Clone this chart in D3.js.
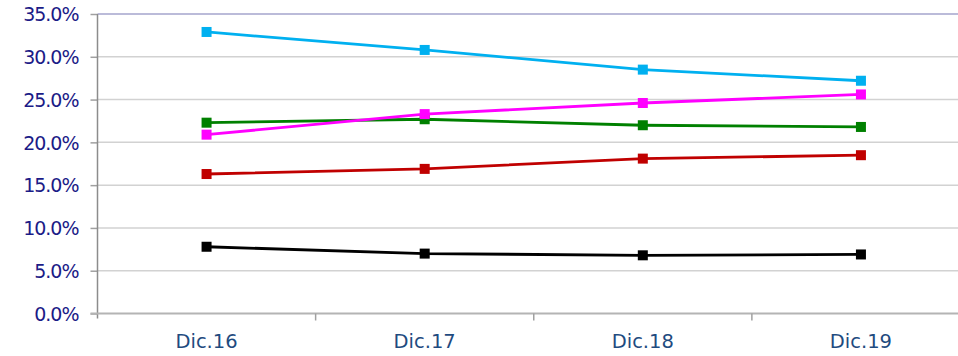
<!DOCTYPE html>
<html>
<head>
<meta charset="utf-8">
<script src="https://cdn.jsdelivr.net/npm/d3@7"></script>
<style>
  body { margin: 0; background: #fff; }
  .ylab { font-family: "DejaVu Sans", Verdana, sans-serif; font-size: 19px; letter-spacing: -1px; fill: #1b1b87; }
  .xlab { font-family: "DejaVu Sans", Verdana, sans-serif; font-size: 19.5px; fill: #1f4b7f; }
</style>
</head>
<body>
<div id="chart"></div>
<script>
// Data
// ==============================================================================
var categories = ["Dic.16", "Dic.17", "Dic.18", "Dic.19"];
var yTicks = [0, 5, 10, 15, 20, 25, 30, 35];

var cyanSeries    = [32.9, 30.8, 28.5, 27.2];
var magentaSeries = [20.9, 23.3, 24.6, 25.6];
var greenSeries   = [22.3, 22.7, 22.0, 21.8];
var redSeries     = [16.3, 16.9, 18.1, 18.5];
var blackSeries   = [7.8, 7.0, 6.8, 6.9];

var seriesList = [
  { values: blackSeries, color: "#000000" },
  { values: redSeries, color: "#c00000" },
  { values: greenSeries, color: "#008000" },
  { values: magentaSeries, color: "#ff00ff" },
  { values: cyanSeries, color: "#00b0f0" }
];

// Canvas
// ==============================================================================
var svgWidth = 958;
var svgHeight = 356;
var plotLeft = 97.5, plotRight = 970, plotTop = 14, plotBottom = 313.5;

var svg = d3.select("#chart")
  .append("svg")
  .attr("width", svgWidth)
  .attr("height", svgHeight);

// Scales
var xScale = d3.scaleBand().domain(categories).range([plotLeft, plotRight]).padding(0);
var yScale = d3.scaleLinear().domain([0, 35]).range([plotBottom, plotTop]);

// Gridlines
svg.append("g")
  .selectAll("line")
  .data(yTicks.filter(d => d > 0))
  .enter()
  .append("line")
  .attr("x1", plotLeft)
  .attr("x2", plotRight)
  .attr("y1", d => yScale(d))
  .attr("y2", d => yScale(d))
  .attr("stroke", d => d === 35 ? "#a4a4cc" : "#d2d2d2")
  .attr("stroke-width", 1.5);

// Y axis
var leftAxis = d3.axisLeft(yScale)
  .tickValues(yTicks)
  .tickSize(7)
  .tickPadding(12)
  .tickFormat(d => d.toFixed(1) + "%");

var yAxisG = svg.append("g")
  .attr("transform", `translate(${plotLeft}, 0)`)
  .call(leftAxis);
yAxisG.select(".domain").remove();
yAxisG.selectAll("line").attr("stroke", "#a0a0a0").attr("stroke-width", 1.5);
yAxisG.selectAll("text").attr("class", "ylab").attr("fill", null).attr("dy", "0.36em");

svg.append("line")
  .attr("x1", plotLeft).attr("x2", plotLeft)
  .attr("y1", plotTop).attr("y2", plotBottom + 5)
  .attr("stroke", "#8c8c8c").attr("stroke-width", 1.5);

// X axis
svg.append("line")
  .attr("x1", plotLeft - 7).attr("x2", plotRight)
  .attr("y1", plotBottom).attr("y2", plotBottom)
  .attr("stroke", "#b4b4b4").attr("stroke-width", 2);

svg.append("g")
  .selectAll("line")
  .data(categories.slice(1))
  .enter()
  .append("line")
  .attr("x1", d => xScale(d))
  .attr("x2", d => xScale(d))
  .attr("y1", plotBottom)
  .attr("y2", plotBottom + 7)
  .attr("stroke", "#a0a0a0")
  .attr("stroke-width", 1.5);

svg.append("g")
  .selectAll("text")
  .data(categories)
  .enter()
  .append("text")
  .attr("class", "xlab")
  .attr("x", d => xScale(d) + xScale.bandwidth() / 2)
  .attr("y", 348)
  .attr("text-anchor", "middle")
  .text(d => d);

// Lines and markers
var line = d3.line()
  .x((d, i) => xScale(categories[i]) + xScale.bandwidth() / 2)
  .y(d => yScale(d));

var ms = 10;
seriesList.forEach(function(s) {
  svg.append("path")
    .attr("d", line(s.values))
    .attr("fill", "none")
    .attr("stroke", s.color)
    .attr("stroke-width", 2.8);

  svg.append("g")
    .selectAll("rect")
    .data(s.values)
    .enter()
    .append("rect")
    .attr("x", (d, i) => xScale(categories[i]) + xScale.bandwidth() / 2 - ms / 2)
    .attr("y", d => yScale(d) - ms / 2)
    .attr("width", ms)
    .attr("height", ms)
    .attr("fill", s.color);
});
</script>
</body>
</html>
